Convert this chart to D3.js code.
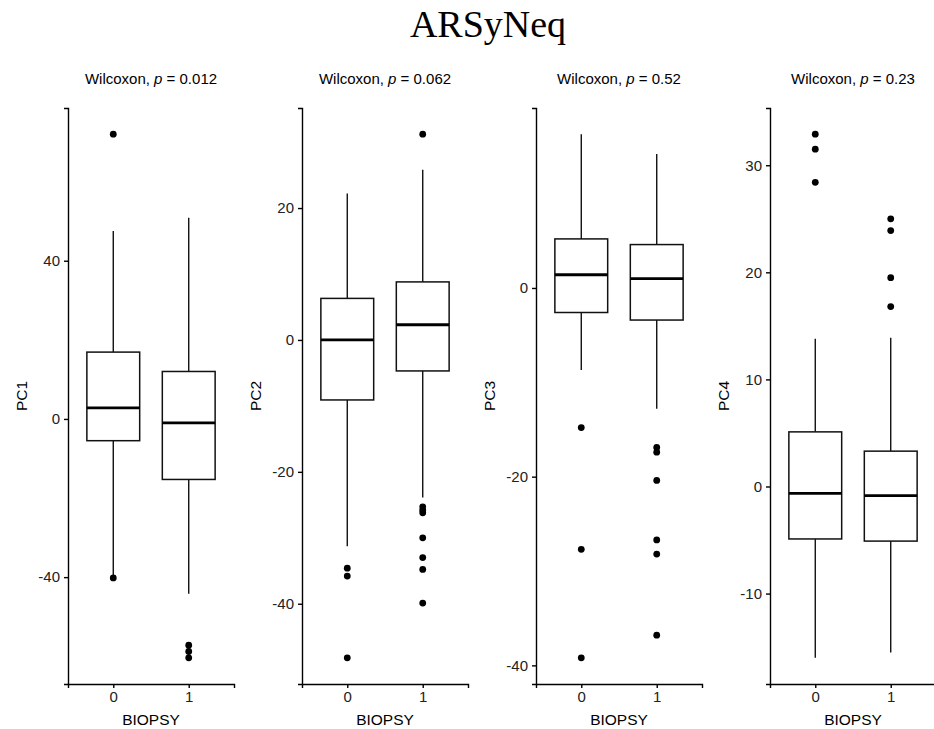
<!DOCTYPE html>
<html>
<head>
<meta charset="utf-8">
<script src="https://cdn.jsdelivr.net/npm/d3@7"></script>
<style>
  body { margin: 0; background: #fff; }
  svg { display: block; }
  .axis text { font-family: "Liberation Sans", Arial, sans-serif; font-size: 15px; fill: #222; }
  .axis path, .axis line { stroke: #000; stroke-width: 1.4px; }
</style>
</head>
<body>
<div id="chart"></div>
<script>
const biopsy = ['0', '1'];
const components = ['PC1', 'PC2', 'PC3', 'PC4'];
const pValues = ['0.012', '0.062', '0.52', '0.23'];

// [lower whisker, Q1, median, Q3, upper whisker] for biopsy 0 and 1
const pc1Stats = [[-39.6, -5.5, 2.8, 16.9, 47.5], [-44.2, -15.3, -1.0, 12.0, 50.9]];
const pc2Stats = [[-31.3, -9.1, 0.0, 6.3, 22.2], [-23.9, -4.7, 2.3, 8.8, 25.8]];
const pc3Stats = [[-8.7, -2.6, 1.4, 5.2, 16.3], [-12.8, -3.4, 1.0, 4.6, 14.2]];
const pc4Stats = [[-16.0, -4.9, -0.65, 5.1, 13.8], [-15.5, -5.1, -0.85, 3.3, 13.9]];

const pc1Outliers = [[72.0, -40.2], [-57.2, -58.8, -60.4]];
const pc2Outliers = [[-34.6, -35.8, -48.2], [31.2, -25.3, -25.8, -26.2, -30.0, -33.0, -34.8, -39.9]];
const pc3Outliers = [[-14.8, -27.7, -39.2], [-16.9, -17.4, -20.4, -26.7, -28.2, -36.8]];
const pc4Outliers = [[32.9, 31.5, 28.4], [25.0, 23.9, 19.5, 16.8]];

const pc1Ticks = [-40, 0, 40];
const pc2Ticks = [-40, -20, 0, 20];
const pc3Ticks = [-40, -20, 0];
const pc4Ticks = [-10, 0, 10, 20, 30];

const stats = [pc1Stats, pc2Stats, pc3Stats, pc4Stats];
const outliers = [pc1Outliers, pc2Outliers, pc3Outliers, pc4Outliers];
const ticks = [pc1Ticks, pc2Ticks, pc3Ticks, pc4Ticks];

const W = 934, H = 729;
const panelStep = 234, plotLeft = 68, plotW = 166;
const plotTop = 108, plotBottom = 684;

const svg = d3.select('#chart').append('svg')
  .attr('width', W).attr('height', H);

svg.append('text')
  .attr('x', 488).attr('y', 37)
  .attr('text-anchor', 'middle')
  .style('font-family', '"Liberation Serif", "Times New Roman", serif')
  .style('font-size', '38px')
  .text('ARSyNeq');

components.forEach(function(pc, i) {
  let left = plotLeft + i * panelStep;
  let g = svg.append('g').attr('transform', 'translate(' + left + ',0)');

  // y domain from all values, with ggplot's 5% expansion
  let vals = [];
  stats[i].forEach(s => vals.push(...s));
  outliers[i].forEach(o => vals.push(...o));
  let lo = d3.min(vals), hi = d3.max(vals), pad = (hi - lo) * 0.05;

  let y = d3.scaleLinear().domain([lo - pad, hi + pad]).range([plotBottom, plotTop]);
  let x = d3.scalePoint().domain(biopsy).range([0, plotW]).padding(0.6);
  let bw = x.step() * 0.7;

  biopsy.forEach(function(b, j) {
    let s = stats[i][j], cx = x(b);
    let bg = g.append('g');
    bg.append('line')
      .attr('x1', cx).attr('x2', cx)
      .attr('y1', y(s[4])).attr('y2', y(s[3]))
      .attr('stroke', '#111').attr('stroke-width', 1.4);
    bg.append('line')
      .attr('x1', cx).attr('x2', cx)
      .attr('y1', y(s[1])).attr('y2', y(s[0]))
      .attr('stroke', '#111').attr('stroke-width', 1.4);
    bg.append('rect')
      .attr('x', cx - bw / 2).attr('width', bw)
      .attr('y', y(s[3])).attr('height', y(s[1]) - y(s[3]))
      .attr('fill', '#fff').attr('stroke', '#111').attr('stroke-width', 1.5);
    bg.append('line')
      .attr('x1', cx - bw / 2).attr('x2', cx + bw / 2)
      .attr('y1', y(s[2])).attr('y2', y(s[2]))
      .attr('stroke', '#000').attr('stroke-width', 2.8);
    bg.selectAll('circle')
      .data(outliers[i][j])
      .enter().append('circle')
        .attr('cx', cx)
        .attr('cy', d => y(d))
        .attr('r', 3.4)
        .attr('fill', '#000');
  });

  g.append('g')
    .attr('class', 'axis')
    .call(d3.axisLeft(y).tickValues(ticks[i]).tickFormat(d => String(d))
      .tickSizeOuter(0).tickSize(4).tickPadding(4));

  g.append('g')
    .attr('class', 'axis')
    .attr('transform', 'translate(0,' + plotBottom + ')')
    .call(d3.axisBottom(x).tickSizeOuter(0).tickSize(4).tickPadding(3));

  // comparison label
  let sub = g.append('text')
    .attr('x', plotW / 2).attr('y', 84)
    .attr('text-anchor', 'middle')
    .style('font-family', '"Liberation Sans", Arial, sans-serif')
    .style('font-size', '15px')
    .attr('fill', '#000');
  sub.append('tspan').text('Wilcoxon, ');
  sub.append('tspan').style('font-style', 'italic').text('p');
  sub.append('tspan').text(' = ' + pValues[i]);

  // axis titles
  g.append('text')
    .attr('transform', 'translate(' + (-41) + ',' + ((plotTop + plotBottom) / 2) + ') rotate(-90)')
    .attr('text-anchor', 'middle')
    .style('font-family', '"Liberation Sans", Arial, sans-serif')
    .style('font-size', '15.5px')
    .text(pc);

  g.append('text')
    .attr('x', plotW / 2).attr('y', 725)
    .attr('text-anchor', 'middle')
    .style('font-family', '"Liberation Sans", Arial, sans-serif')
    .style('font-size', '15.5px')
    .text('BIOPSY');
});
</script>
</body>
</html>
